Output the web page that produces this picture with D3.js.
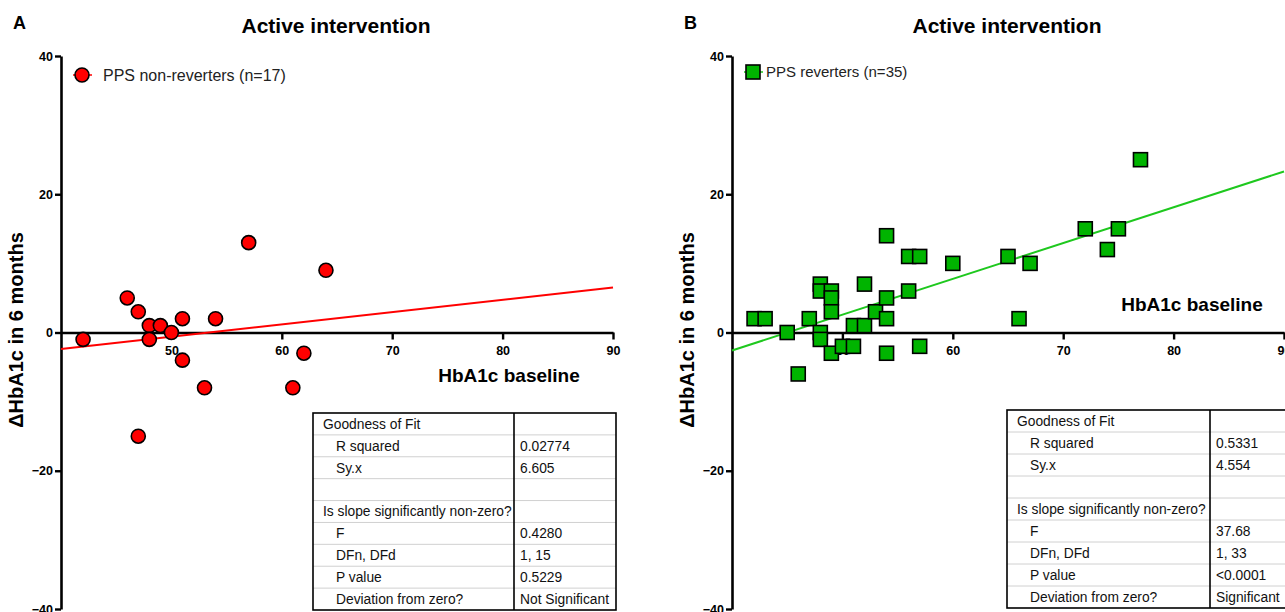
<!DOCTYPE html>
<html>
<head>
<meta charset="utf-8">
<script src="https://cdn.jsdelivr.net/npm/d3@7"></script>
<style>
  body { margin: 0; background: #fff; }
  svg { display: block; font-family: "Liberation Sans", Arial, sans-serif; }
  .tick text { font-weight: bold; font-size: 12.5px; fill: #000; }
</style>
</head>
<body>
<script>
// ---- data ----
let xNonRev = [42, 46, 47, 48, 48, 49, 50, 51, 51, 53, 54, 57, 47, 61, 62, 64];
let yNonRev = [-1, 5, 3, 1, -1, 1, 0, 2, -4, -8, 2, 13, -15, -8, -3, 9];

let xRev = [42, 43, 45, 46, 47, 48, 48, 48, 48, 49, 49, 49, 49, 50, 51, 51, 52, 52, 53,
            54, 54, 54, 54, 56, 57, 56, 57, 60, 65, 67, 66, 72, 75, 74, 77];
let yRev = [2, 2, 0, -6, 2, 7, 6, 0, -1, 6, 5, 3, -3, -2, -2, 1, 1, 7, 3,
            14, 5, 2, -3, 11, 11, 6, -2, 10, 11, 10, 2, 15, 15, 12, 25];

// fitted line end points (x, y) as drawn
let fitNonRev = [[40, -2.4], [90, 6.5]];
let fitRev = [[40, -2.6], [90, 23.3]];

let xTicks = [50, 60, 70, 80, 90];
let yTicks = [40, 20, 0, -20, -40];

let tableLabels = ["Goodness of Fit", "R squared", "Sy.x", "", "Is slope significantly non-zero?",
                   "F", "DFn, DFd", "P value", "Deviation from zero?"];
let tableIndent = [0, 1, 1, 0, 0, 1, 1, 1, 1];
let tableNonRev = ["", "0.02774", "6.605", "", "", "0.4280", "1, 15", "0.5229", "Not Significant"];
let tableRev = ["", "0.5331", "4.554", "", "", "37.68", "1, 33", "<0.0001", "Significant"];

let width = 1285,
    height = 612;

let svg = d3.select("body").append("svg")
    .attr("width", width)
    .attr("height", height);

function panel(opt) {
    let g = svg.append("g");
    let x = d3.scaleLinear().domain([40, 90]).range([opt.left, opt.left + 552]);
    let y = d3.scaleLinear().domain([-40, 40]).range([609, 56]);

    // panel letter + title
    g.append("text").attr("x", opt.left - 48).attr("y", 29)
        .attr("font-size", 18).attr("font-weight", "bold").text(opt.letter);
    g.append("text").attr("x", opt.left + 275).attr("y", 33)
        .attr("text-anchor", "middle").attr("font-size", 21).attr("font-weight", "bold")
        .text("Active intervention");

    // axes
    let yAxis = g.append("g").attr("transform", "translate(" + opt.left + ",0)")
        .call(d3.axisLeft(y).tickValues(yTicks).tickSize(6).tickSizeOuter(0).tickPadding(2));
    let xAxis = g.append("g").attr("transform", "translate(0," + y(0) + ")")
        .call(d3.axisBottom(x).tickValues(xTicks).tickSize(7).tickSizeOuter(0).tickPadding(7));
    [yAxis, xAxis].forEach(function(a) {
        a.attr("font-family", null).attr("font-size", null);
        a.select(".domain").attr("stroke", "#000").attr("stroke-width", 2.6);
        a.selectAll(".tick line").attr("stroke", "#000").attr("stroke-width", 2.4);
        a.selectAll(".tick text").attr("font-weight", "bold").attr("fill", "#000");
    });

    g.append("text")
        .attr("transform", "translate(" + (opt.left - 38) + ",330) rotate(-90)")
        .attr("text-anchor", "middle").attr("font-size", 20).attr("font-weight", "bold")
        .text("\u0394HbA1c in 6 months");

    g.append("text").attr("x", opt.xTitle[0]).attr("y", opt.xTitle[1])
        .attr("text-anchor", "middle").attr("font-size", 19).attr("font-weight", "bold")
        .text("HbA1c baseline");

    // regression line
    g.append("path")
        .attr("d", d3.line().x(function(d) { return x(d[0]); }).y(function(d) { return y(d[1]); })(opt.fit))
        .attr("fill", "none").attr("stroke", opt.line).attr("stroke-width", 2);

    // points
    let pts = opt.xs.map(function(v, i) { return [v, opt.ys[i]]; });
    if (opt.shape === "circle") {
        g.selectAll(".pt").data(pts).enter().append("circle")
            .attr("cx", function(d) { return x(d[0]); })
            .attr("cy", function(d) { return y(d[1]); })
            .attr("r", 7)
            .attr("fill", opt.fill).attr("stroke", "#000").attr("stroke-width", 1.6);
    } else {
        g.selectAll(".pt").data(pts).enter().append("rect")
            .attr("x", function(d) { return x(d[0]) - 7; })
            .attr("y", function(d) { return y(d[1]) - 7; })
            .attr("width", 14).attr("height", 14)
            .attr("fill", opt.fill).attr("stroke", "#000").attr("stroke-width", 1.6);
    }

    // legend
    let lg = g.append("g").attr("transform", "translate(" + (opt.left + 21) + "," + opt.legY + ")");
    lg.append("line").attr("x1", -9).attr("x2", 10).attr("stroke", opt.line).attr("stroke-width", 1.5);
    if (opt.shape === "circle") {
        lg.append("circle").attr("r", 7).attr("fill", opt.fill).attr("stroke", "#000").attr("stroke-width", 1.6);
    } else {
        lg.append("rect").attr("x", -7).attr("y", -7).attr("width", 14).attr("height", 14)
            .attr("fill", opt.fill).attr("stroke", "#000").attr("stroke-width", 1.6);
    }
    lg.append("text").attr("x", opt.legDx).attr("y", 0).attr("dy", "0.35em")
        .attr("font-size", opt.legSize).attr("fill", "#222").text(opt.legend);

    // goodness of fit table
    let t = opt.table;
    let rowH = (t.bottom - t.top) / tableLabels.length;
    let tg = g.append("g");
    tg.append("rect").attr("x", t.left).attr("y", t.top)
        .attr("width", t.right - t.left).attr("height", t.bottom - t.top).attr("fill", "#fff");
    tg.selectAll(".grid").data(d3.range(1, tableLabels.length)).enter().append("line")
        .attr("x1", t.left).attr("x2", t.right)
        .attr("y1", function(i) { return t.top + i * rowH; })
        .attr("y2", function(i) { return t.top + i * rowH; })
        .attr("stroke", "#d0d0d0").attr("stroke-width", 1);
    tg.append("rect").attr("x", t.left).attr("y", t.top)
        .attr("width", t.right - t.left).attr("height", t.bottom - t.top)
        .attr("fill", "none").attr("stroke", "#000").attr("stroke-width", 1.6);
    tg.append("line").attr("x1", t.mid).attr("x2", t.mid).attr("y1", t.top).attr("y2", t.bottom)
        .attr("stroke", "#000").attr("stroke-width", 1.6);
    tg.selectAll(".lab").data(tableLabels).enter().append("text")
        .attr("x", function(d, i) { return t.left + (tableIndent[i] ? 23 : 10); })
        .attr("y", function(d, i) { return t.top + (i + 0.5) * rowH; })
        .attr("dy", "0.36em").attr("font-size", 13.8).attr("fill", "#111")
        .text(function(d) { return d; });
    tg.selectAll(".val").data(opt.values).enter().append("text")
        .attr("x", t.mid + 6)
        .attr("y", function(d, i) { return t.top + (i + 0.5) * rowH; })
        .attr("dy", "0.36em").attr("font-size", 13.8).attr("fill", "#111")
        .text(function(d) { return d; });
}

panel({
    letter: "A", left: 61,
    xs: xNonRev, ys: yNonRev, fit: fitNonRev,
    shape: "circle", fill: "#ff0000", line: "#ff0000",
    legend: "PPS non-reverters (n=17)", legY: 75, legDx: 21, legSize: 16,
    xTitle: [509, 382],
    table: { left: 313, right: 616, mid: 514, top: 413, bottom: 610 },
    values: tableNonRev
});

panel({
    letter: "B", left: 732,
    xs: xRev, ys: yRev, fit: fitRev,
    shape: "square", fill: "#00b400", line: "#1ec81e",
    legend: "PPS reverters (n=35)", legY: 72, legDx: 13, legSize: 15,
    xTitle: [1192, 311],
    table: { left: 1007, right: 1311, mid: 1210, top: 410, bottom: 608 },
    values: tableRev
});
</script>
</body>
</html>
